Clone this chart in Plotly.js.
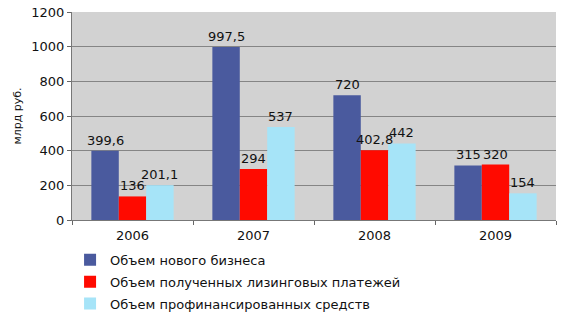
<!DOCTYPE html>
<html><head><meta charset="utf-8">
<script src="https://cdn.plot.ly/plotly-3.0.1.min.js"></script>
<style>body{margin:0;background:#fff}#c{width:572px;height:320px}</style>
</head><body><div id="c"></div>
<script>
const years = ["2006", "2007", "2008", "2009"];
const seriesNames = ["Объем нового бизнеса", "Объем полученных лизинговых платежей", "Объем профинансированных средств"];
const newBusiness = [399.6, 997.5, 720, 315];
const leasePayments = [136, 294, 402.8, 320];
const financed = [201.1, 537, 442, 154];
const yTicks = [0, 200, 400, 600, 800, 1000, 1200];
const colors = ["#4a5a9e", "#ff0a00", "#a6e4f8"];

const FONT = 'DejaVu Sans, Verdana, sans-serif';
const W = 572, H = 320, M = {l: 72, r: 16, t: 12, b: 100};
const bargap = 0.32;
const plotW = W - M.l - M.r;
const barW = plotW / years.length * (1 - bargap) / 3;

const fmt = v => String(v).replace('.', ',');
const vals = [newBusiness, leasePayments, financed];
const traces = vals.map((v, i) => ({
  type: 'bar', x: years, y: v, name: seriesNames[i], legendgroup: 'g' + i,
  marker: {color: colors[i]}
}));
const annotations = [];
vals.forEach((v, i) => v.forEach((val, j) => annotations.push({
  x: j, y: val, xref: 'x', yref: 'y', text: fmt(val), showarrow: false,
  xshift: (i - 1) * barW, yanchor: 'bottom', yshift: 1,
  font: {family: FONT, size: 13, color: '#111'}
})));

const layout = {
  width: W, height: H, margin: M,
  paper_bgcolor: '#ffffff', plot_bgcolor: '#d2d2d2',
  font: {family: FONT, size: 13, color: '#111'},
  barmode: 'group', bargap: bargap, bargroupgap: 0,
  showlegend: true, annotations: annotations,
  legend: {xref: 'paper', x: -0.004, xanchor: 'left', yref: 'container', y: 0.235, yanchor: 'top',
    orientation: 'v',
    font: {family: FONT, size: 13, color: '#111'}, bgcolor: 'rgba(0,0,0,0)', tracegroupgap: 2, itemwidth: 30},
  xaxis: {type: 'category', categoryarray: years, range: [-0.5, years.length - 0.5],
    tickson: 'boundaries', ticks: 'outside', ticklen: 4, tickcolor: '#666',
    showline: true, linecolor: '#777', linewidth: 1, showgrid: false, tickfont: {size: 13},
    ticklabelstandoff: 3, fixedrange: true},
  yaxis: {range: [0, 1200], tickvals: yTicks, ticktext: yTicks.map(String), ticks: 'outside', ticklen: 4,
    tickcolor: '#666', showline: true, linecolor: '#777', gridcolor: '#858585', gridwidth: 1,
    zeroline: false, tickfont: {size: 13},
    title: {text: 'млрд руб.', font: {size: 11}, standoff: 7}, fixedrange: true},
  hovermode: false
};
Plotly.newPlot('c', traces, layout, {staticPlot: true});
</script></body></html>
